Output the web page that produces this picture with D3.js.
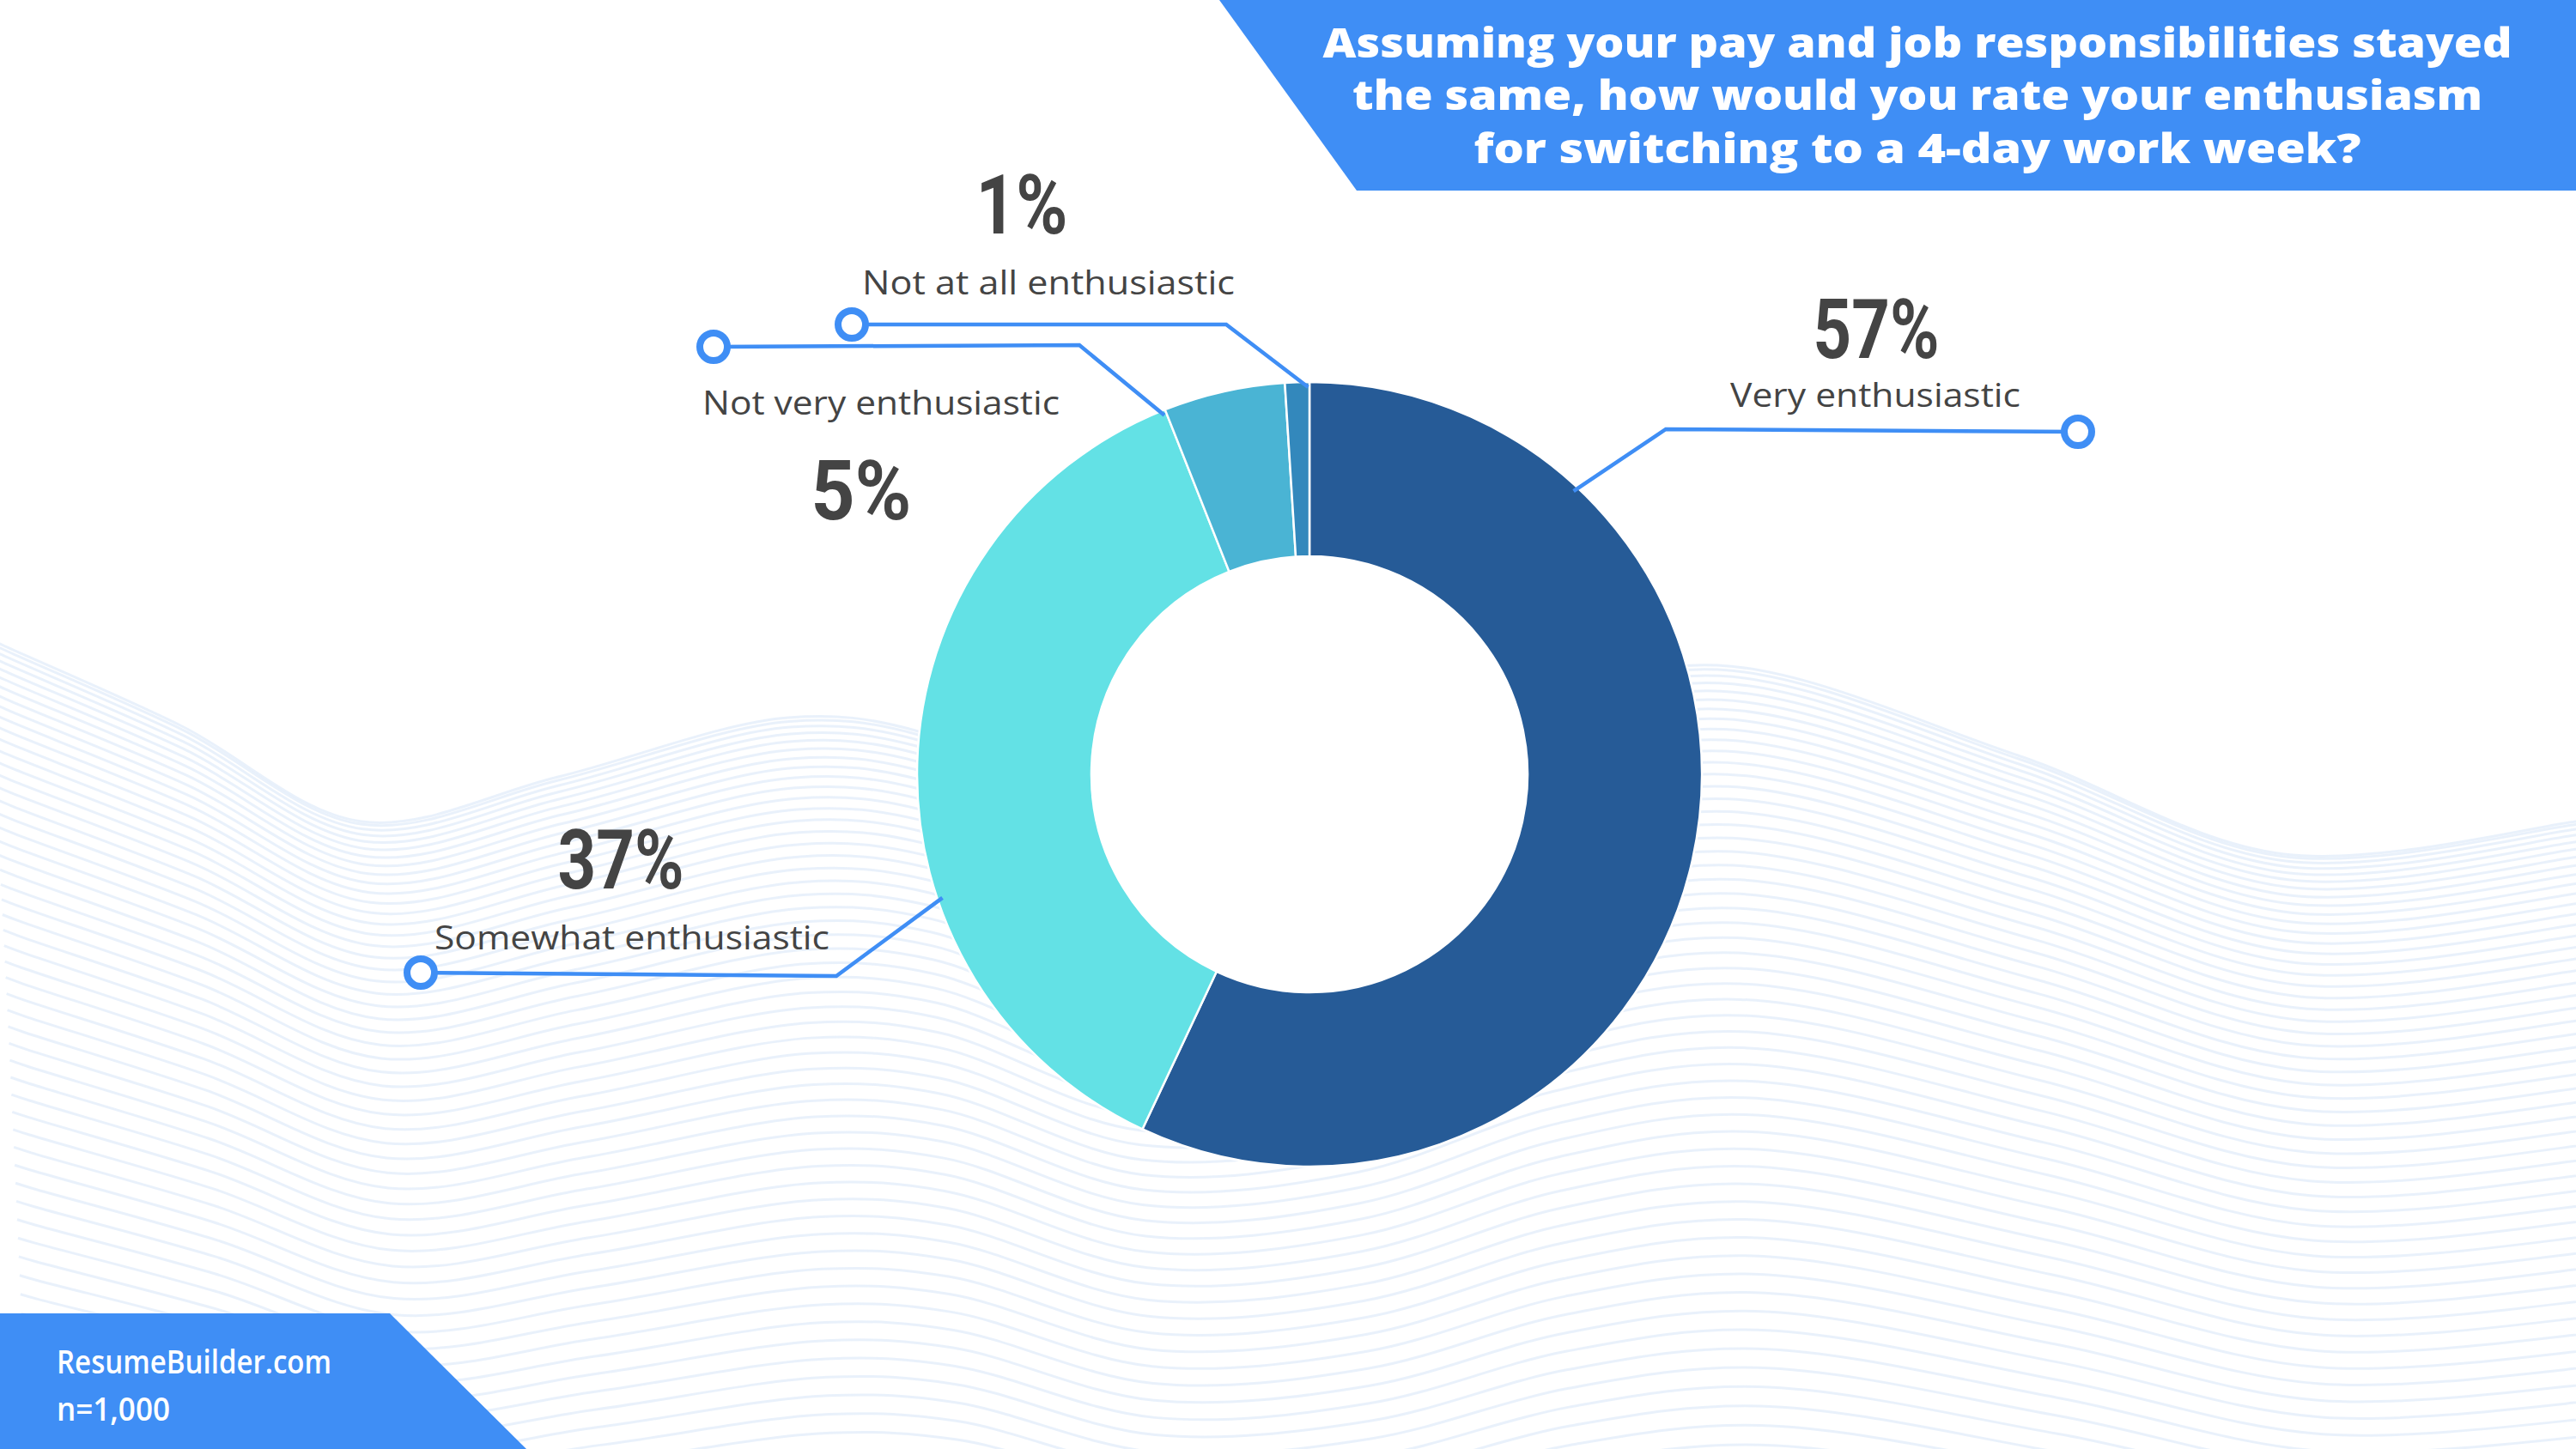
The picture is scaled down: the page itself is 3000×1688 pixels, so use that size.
<!DOCTYPE html>
<html>
<head>
<meta charset="utf-8">
<script src="https://cdn.jsdelivr.net/npm/d3@7"></script>
<style>
  html, body { margin: 0; padding: 0; background: #ffffff; }
  svg { display: block; }
</style>
</head>
<body>
<svg id="chart" width="3000" height="1688"></svg>
<script>
// ---------- DATA ----------
const categories = ["Very enthusiastic", "Somewhat enthusiastic", "Not very enthusiastic", "Not at all enthusiastic"];
const values = [57, 37, 5, 1];
const valueLabels = ["57%", "37%", "5%", "1%"];
const titleLines = [
  "Assuming your pay and job responsibilities stayed",
  "the same, how would you rate your enthusiasm",
  "for switching to a 4-day work week?"
];
const footerLines = ["ResumeBuilder.com", "n=1,000"];

// ---------- STYLE / LAYOUT ----------
const sliceColors = ["#265b97", "#63e1e5", "#4ab4d4", "#3388bc"];
const accent = "#3f8ef5";
const textDark = "#444444";
const W = 3000, H = 1688;
const cx = 1525, cy = 902, outerR = 457, innerR = 254;

// callout layout (anchor angle in degrees clockwise from 12 o'clock)
const callouts = [
  { angle: 43,    elbow: [1940, 500],  end: [2420, 503], pctX: 2185, pctY: 417, pctW: 147, labX: 2184, labY: 474, labW: 338 },
  { angle: 251.4, elbow: [974, 1137],  end: [490, 1133], pctX: 723,  pctY: 1035, pctW: 147, labX: 736, labY: 1106, labW: 460 },
  { angle: 338,   elbow: [1257, 402],  end: [831, 404],  pctX: 1003, pctY: 605, pctW: 117, labX: 1026, labY: 483, labW: 416 },
  { angle: 359.8, elbow: [1428, 378],  end: [992, 378],  pctX: 1190, pctY: 272, pctW: 107, labX: 1221, labY: 343, labW: 434 }
];

const svg = d3.select("#chart");

// ---------- BACKGROUND WAVES (decoration) ----------
const waveTop = [[-20, 740], [0, 750], [210, 845], [421, 957], [650, 905], [918, 836], [1066, 851],
                 [1300, 960], [1550, 930], [1780, 820], [2000, 775], [2350, 880], [2660, 995], [3000, 957], [3020, 955]];
const waveMean = 880;
const nWaves = 64;
const waveLine = d3.line().curve(d3.curveCatmullRom.alpha(0.5));
const waveG = svg.append("g");
for (let i = 0; i < nWaves; i++) {
  const t = i / (nWaves - 1);
  const amp = 1 - 0.6 * t;
  const off = 1080 * Math.pow(t, 1.35);
  const pts = waveTop.map(([x, y]) => [x + 60 * t, waveMean + (y - waveMean) * amp + off]);
  waveG.append("path")
    .attr("d", waveLine(pts))
    .attr("fill", "none")
    .attr("stroke", "#e4edfa")
    .attr("stroke-opacity", 0.8)
    .attr("stroke-width", 3);
}

// ---------- TITLE BOX ----------
svg.append("path")
  .attr("d", d3.line()([[1420, 0], [W, 0], [W, 222], [1580, 222]]) + "Z")
  .attr("fill", accent);

const titleBaselines = [67, 128, 190];
const titleWidths = [1385, 1316, 1033];
svg.append("g").selectAll("text").data(titleLines).join("text")
  .attr("x", 2233)
  .attr("y", (d, i) => titleBaselines[i])
  .attr("text-anchor", "middle")
  .attr("textLength", (d, i) => titleWidths[i])
  .attr("lengthAdjust", "spacingAndGlyphs")
  .attr("font-family", "'Open Sans', sans-serif")
  .attr("font-weight", 800)
  .attr("font-size", 48)
  .attr("fill", "#ffffff")
  .text(d => d);

// ---------- DONUT ----------
const pie = d3.pie().sort(null).value(d => d).startAngle(0).endAngle(2 * Math.PI);
const arcs = pie(values);
const arc = d3.arc().innerRadius(innerR).outerRadius(outerR);
const donut = svg.append("g").attr("transform", `translate(${cx},${cy})`);
donut.append("circle").attr("r", innerR).attr("fill", "#ffffff");
donut.selectAll("path").data(arcs).join("path")
  .attr("d", arc)
  .attr("fill", (d, i) => sliceColors[i])
  .attr("stroke", "#ffffff")
  .attr("stroke-width", 2.5);

// ---------- CALLOUTS ----------
const cg = svg.append("g");
callouts.forEach((c, i) => {
  const a = c.angle * Math.PI / 180;
  const r = outerR - 6;
  const anchor = [cx + r * Math.sin(a), cy - r * Math.cos(a)];
  cg.append("path")
    .attr("d", d3.line()([anchor, c.elbow, c.end]))
    .attr("fill", "none")
    .attr("stroke", accent)
    .attr("stroke-width", 4.5)
    .attr("stroke-linejoin", "miter");
  cg.append("circle")
    .attr("cx", c.end[0]).attr("cy", c.end[1])
    .attr("r", 16)
    .attr("fill", "#ffffff")
    .attr("stroke", accent)
    .attr("stroke-width", 8);
  cg.append("text")
    .attr("x", c.pctX).attr("y", c.pctY)
    .attr("text-anchor", "middle")
    .attr("textLength", c.pctW)
    .attr("lengthAdjust", "spacingAndGlyphs")
    .attr("font-family", "Roboto, sans-serif")
    .attr("font-weight", 700)
    .attr("font-size", 96)
    .attr("fill", textDark)
    .text(valueLabels[i]);
  cg.append("text")
    .attr("x", c.labX).attr("y", c.labY)
    .attr("text-anchor", "middle")
    .attr("textLength", c.labW)
    .attr("lengthAdjust", "spacingAndGlyphs")
    .attr("font-family", "'Open Sans', sans-serif")
    .attr("font-weight", 400)
    .attr("font-size", 38)
    .attr("fill", textDark)
    .text(categories[i]);
});

// ---------- FOOTER ----------
svg.append("path")
  .attr("d", d3.line()([[0, 1530], [454, 1530], [613, H], [0, H]]) + "Z")
  .attr("fill", accent);
const footBaselines = [1600, 1655];
const footWidths = [320, 132];
svg.append("g").selectAll("text").data(footerLines).join("text")
  .attr("x", 66)
  .attr("y", (d, i) => footBaselines[i])
  .attr("textLength", (d, i) => footWidths[i])
  .attr("lengthAdjust", "spacingAndGlyphs")
  .attr("font-family", "'Open Sans', sans-serif")
  .attr("font-weight", 600)
  .attr("font-size", 37)
  .attr("fill", "#ffffff")
  .text(d => d);
</script>
</body>
</html>
